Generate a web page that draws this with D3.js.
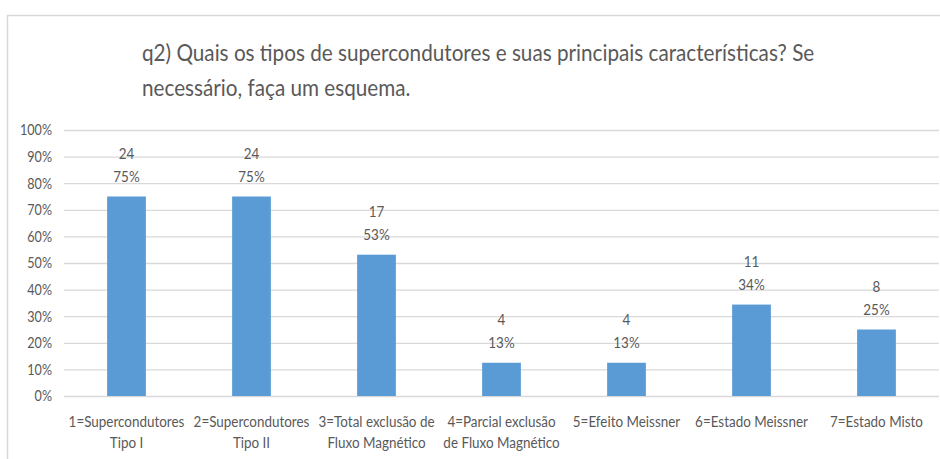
<!DOCTYPE html>
<html>
<head>
<meta charset="utf-8">
<script src="https://cdn.jsdelivr.net/npm/d3@7"></script>
<style>
	body { margin: 0; background: #fff; }
	svg text { font-family: Lato, "Open Sans", sans-serif; fill: #595959; }
</style>
</head>
<body>
<div id="chart"></div>
<script>
// answers to q2, 32 respondents
var categories = [
	["1=Supercondutores", "Tipo I"],
	["2=Supercondutores", "Tipo II"],
	["3=Total exclusão de", "Fluxo Magnético"],
	["4=Parcial exclusão", "de Fluxo Magnético"],
	["5=Efeito Meissner"],
	["6=Estado Meissner"],
	["7=Estado Misto"]
];
var counts = [24, 24, 17, 4, 4, 11, 8];
var totalRespondents = 32;
var yTicks = [0, 0.1, 0.2, 0.3, 0.4, 0.5, 0.6, 0.7, 0.8, 0.9, 1];
var titleLines = [
	"q2) Quais os tipos de supercondutores e suas principais características? Se",
	"necessário, faça um esquema."
];

drawChart("chart");

function drawChart(container){
	var width = 940, height = 459;
	var margin = { top: 130, right: 1, bottom: 63, left: 64 };
	var sx = 0.84; // the original font is narrow (Calibri-like), squeeze Lato a bit

	var svg = d3.select("#" + container).append("svg")
		.attr("width", width)
		.attr("height", height);

	// chart frame
	svg.append("rect")
		.attr("x", 7.5).attr("y", 15.5)
		.attr("width", width).attr("height", height)
		.attr("fill", "none")
		.attr("stroke", "#d9d9d9")
		.attr("stroke-width", 1.5);

	svg.selectAll(".title")
		.data(titleLines)
		.enter().append("text")
		.attr("class", "title")
		.attr("transform", function(d, i){ return "translate(142," + (61 + i*35) + ") scale(0.9,1)"; })
		.style("font-size", "23px")
		.text(function(d){ return d; });

	var x = d3.scaleBand()
		.domain(d3.range(categories.length))
		.range([margin.left, width - margin.right])
		.paddingInner(0.69)
		.paddingOuter(0.345);

	var y = d3.scaleLinear()
		.domain([0, 1])
		.range([height - margin.bottom, margin.top]);

	var grid = svg.append("g")
		.attr("transform", "translate(" + margin.left + ",0)")
		.call(d3.axisLeft(y).tickValues(yTicks).tickSize(-(width - margin.left - margin.right)).tickFormat(d3.format(".0%")));
	grid.select(".domain").remove();
	grid.selectAll(".tick line").attr("stroke", "#d9d9d9").attr("stroke-width", 1.3);
	grid.selectAll(".tick text")
		.attr("x", -12/sx)
		.attr("transform", "scale(" + sx + ",1)")
		.style("font-size", "15px");

	svg.selectAll(".bar")
		.data(counts)
		.enter().append("rect")
		.attr("class", "bar")
		.attr("x", function(d, i){ return x(i); })
		.attr("y", function(d){ return y(d/totalRespondents); })
		.attr("width", x.bandwidth())
		.attr("height", function(d){ return y(0) - y(d/totalRespondents); })
		.attr("fill", "#5b9bd5");

	var labels = svg.selectAll(".dlabel")
		.data(counts)
		.enter().append("text")
		.attr("class", "dlabel")
		.attr("text-anchor", "middle")
		.style("font-size", "16px")
		.attr("transform", function(d, i){
			return "translate(" + (x(i) + x.bandwidth()/2) + "," + y(d/totalRespondents) + ") scale(" + sx + ",1)";
		});
	labels.append("tspan").attr("x", 0).attr("y", -38).text(function(d){ return d; });
	labels.append("tspan").attr("x", 0).attr("y", -15)
		.text(function(d){ return Math.round(100*d/totalRespondents) + "%"; });

	var catLabels = svg.selectAll(".catlabel")
		.data(categories)
		.enter().append("text")
		.attr("class", "catlabel")
		.attr("text-anchor", "middle")
		.style("font-size", "16px")
		.attr("transform", function(d, i){
			return "translate(" + (x(i) + x.bandwidth()/2) + "," + (y(0) + 31) + ") scale(" + sx + ",1)";
		});
	catLabels.selectAll("tspan")
		.data(function(d){ return d; })
		.enter().append("tspan")
		.attr("x", 0)
		.attr("y", function(d, i){ return i*21.5; })
		.text(function(d){ return d; });
}
</script>
</body>
</html>
